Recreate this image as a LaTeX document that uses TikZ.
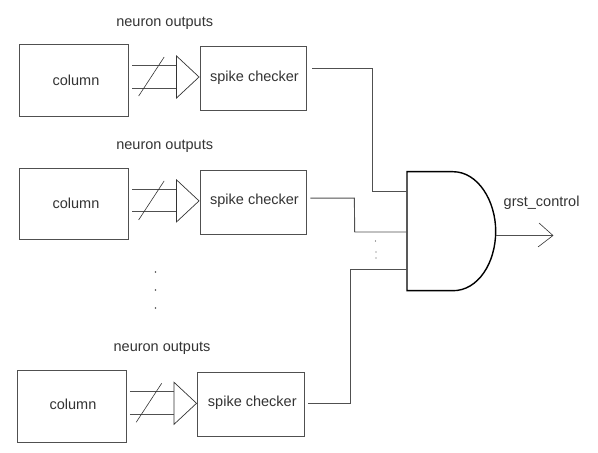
\documentclass[tikz,border=0pt]{standalone}
\usepackage{fontspec}
\setmainfont{Liberation Sans}
\usetikzlibrary{shapes.geometric, positioning}
\definecolor{linegray}{HTML}{505050}
\tikzstyle{colbox} = [
    rectangle,
    minimum width=109pt,
    minimum height=71.5pt,
    inner sep=0pt,
    draw=linegray,
    line width=0.9pt
]
\tikzstyle{checkbox} = [
    rectangle,
    minimum width=106.5pt,
    minimum height=64pt,
    inner sep=0pt,
    draw=linegray,
    line width=0.9pt
]
\tikzstyle{funnel} = [
    isosceles triangle,
    isosceles triangle stretches,
    shape border rotate=0,
    minimum width=42pt,
    minimum height=22.5pt,
    inner sep=0pt,
    draw=black!80,
    line width=0.7pt
]
\tikzstyle{wire} = [
    linegray,
    line width=0.9pt
]
\tikzstyle{slash} = [
    black!80,
    line width=0.6pt
]
\tikzstyle{caption} = [
    inner sep=0pt,
    text=black!80
]
\tikzstyle{dotmark} = [
    circle,
    fill=black!70,
    inner sep=0pt,
    minimum size=1.6pt
]
\begin{document}
\begin{tikzpicture}[x=1pt, y=1pt, font=\fontsize{14.5}{17}\selectfont]
    \useasboundingbox (0,0) rectangle (598,453);

    % Nodes
    \node (col1) [colbox] at (74,372.75) {};
    \node (col2) [colbox, below=51.5pt of col1] {};
    \node (col3) [colbox, below=130pt of col2, xshift=-2.5pt] {};
    \node (chk1) [checkbox, right=71pt of col1, yshift=1.75pt] {};
    \node (chk2) [checkbox, right=71pt of col2, yshift=1.75pt] {};
    \node (chk3) [checkbox, right=71pt of col3, yshift=1.75pt] {};

    \node (tri1) [funnel, left=0pt of chk1, yshift=1.5pt] {};
    \node (tri2) [funnel, left=0pt of chk2, yshift=1.5pt] {};
    \node (tri3) [funnel, left=0pt of chk3, yshift=1.5pt] {};

    % Labels
    \node (lblcol1) [caption] at (76,373) {column};
    \node (lblcol2) [caption] at (76,250) {column};
    \node (lblcol3) [caption] at (73,48.3) {column};
    \node (lblchk1) [caption] at (254.5,375.5) {spike checker};
    \node (lblchk2) [caption] at (254.5,252) {spike checker};
    \node (lblchk3) [caption] at (252.3,50.3) {spike checker};
    \node (out1) [caption] at (164.7,429.5) {neuron outputs};
    \node (out2) [caption] at (164.7,306.5) {neuron outputs};
    \node (out3) [caption] at (162,105) {neuron outputs};
    \node (ctrl) [caption] at (541.6,250) {grst\_control};

    % Dots
    \node (dota) [dotmark] at (155.5,181) {};
    \node (dotb) [dotmark, below=16pt of dota] {};
    \node (dotc) [dotmark, below=16pt of dotb] {};
    \node (dotd) [dotmark, minimum size=1.1pt] at (375.5,212) {};
    \node (dote) [dotmark, minimum size=1.1pt] at (376,201) {};
    \node (dotf) [dotmark, minimum size=1.1pt] at (376,195) {};

    % Gate
    \coordinate (gtop) at (407,281.3);
    \coordinate (gbot) at (407,162.3);
    \coordinate (pin1) at (407,261.7);
    \coordinate (pin2) at (407,221);
    \coordinate (pin3) at (407,184);
    \coordinate (gout) at (495.7,217.5);
    \coordinate (tip) at (553,217.5);
    \draw [black, line width=1.4pt] (gtop) -- (453,281.3)
        .. controls (478,281.3) and (495.7,252) .. (495.7,221.8)
        .. controls (495.7,190) and (478,162.3) .. (453,162.3) -- (gbot) -- cycle;

    % Edges
    \draw [wire] ([xshift=4.7pt,yshift=10pt]chk1.east) -| (372.5,261.7) -- (pin1);
    \draw [wire] ([xshift=3pt,yshift=4.2pt]chk2.east) -- ++(44,0) -- (354.7,221) -- (pin2);
    \draw [wire] ([xshift=3.5pt,yshift=1pt]chk3.east) -| (350.5,184) -- (pin3);
    \draw [wire] (gout) -- (tip);
    \draw [slash] (539,230) -- (tip) -- (538,206);

    % Buses
    \draw [wire] ([xshift=3.5pt,yshift=14.75pt]col1.east) -- ([yshift=11.5pt]tri1.west);
    \draw [wire] ([xshift=3.5pt,yshift=-7.75pt]col1.east) -- ([yshift=-11pt]tri1.west);
    \draw [slash] ([xshift=-37.5pt,yshift=-19pt]tri1.west) -- ++(25.5,39);
    \draw [wire] ([xshift=3.5pt,yshift=14.75pt]col2.east) -- ([yshift=11.5pt]tri2.west);
    \draw [wire] ([xshift=3.5pt,yshift=-7.75pt]col2.east) -- ([yshift=-11pt]tri2.west);
    \draw [slash] ([xshift=-37.5pt,yshift=-19pt]tri2.west) -- ++(25.5,39);
    \draw [wire] ([xshift=3.5pt,yshift=14.75pt]col3.east) -- ([yshift=11.5pt]tri3.west);
    \draw [wire] ([xshift=3.5pt,yshift=-7.75pt]col3.east) -- ([yshift=-11pt]tri3.west);
    \draw [slash] ([xshift=-37.5pt,yshift=-19pt]tri3.west) -- ++(25.5,39);

\end{tikzpicture}
\end{document}
